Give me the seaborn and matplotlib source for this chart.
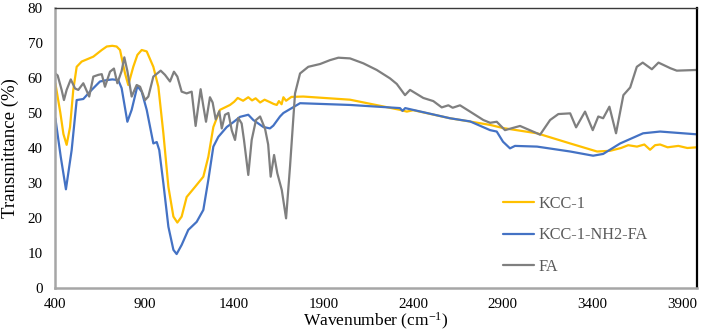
import numpy as np
import pandas as pd
import matplotlib
matplotlib.use("Agg")
import matplotlib.pyplot as plt
import seaborn as sns

# ---- data ----
kcc_wn = [402, 430, 447, 465, 484, 502, 521, 549, 614, 661,
          689, 720, 744, 763, 791, 809, 837, 860, 884, 912,
          949, 977, 1005, 1033, 1061, 1083, 1107, 1135, 1182, 1228,
          1256, 1284, 1321, 1377, 1400, 1420, 1450, 1479, 1500, 1520,
          1545, 1570, 1600, 1620, 1638, 1650, 1665, 1675, 1690, 1720,
          1786, 2047, 2326, 2364, 2400, 2605, 2829, 2901, 3091, 3276,
          3426, 3499, 3560, 3600, 3649, 3690, 3722, 3750, 3778, 3820,
          3880, 3930, 3984]
kcc_t = [58.5, 50, 44, 40.9, 46, 56.6, 63.2, 64.7, 66.1, 68,
         69, 69.2, 69, 68, 61.3, 58, 63.2, 66.6, 68, 67.6,
         63.2, 57.5, 44.2, 28.9, 20.4, 18.7, 20.4, 26, 28.9, 31.8,
         37.5, 46, 50.9, 52.3, 53.2, 54.3, 53.5, 54.5, 53.6, 54.2,
         53.0, 53.8, 53.1, 52.6, 52.3, 53.4, 52.5, 54.5, 53.5, 54.6,
         54.7, 53.8, 50.9, 50.4, 50.8, 48.5, 46.6, 45.7, 44.2, 41.3,
         39, 39.2, 40.0, 40.8, 40.4, 41.0, 39.5, 40.8, 41, 40.2,
         40.6, 40.0, 40.2]

nh2_wn = [402, 432, 461, 493, 521, 558, 595, 651, 689, 720,
          753, 772, 804, 828, 860, 884, 912, 949, 968, 982,
          1005, 1033, 1061, 1079, 1107, 1144, 1191, 1228, 1256, 1284,
          1312, 1359, 1396, 1433, 1479, 1507, 1563, 1600, 1619, 1656,
          1675, 1768, 2047, 2326, 2340, 2355, 2605, 2717, 2829, 2866,
          2901, 2940, 2968, 3091, 3276, 3404, 3460, 3555, 3683, 3778,
          3984]
nh2_t = [48.5, 37.5, 28.2, 39.4, 53.7, 54, 56.1, 59, 59.4, 59.6,
         59.4, 57.1, 47.5, 50.9, 57.7, 56.1, 50.9, 41.3, 41.7, 39.4,
         29.9, 17.5, 10.9, 9.7, 12.3, 16.6, 18.9, 22.3, 30.9, 40.4,
         43.2, 46, 47.4, 48.9, 49.5, 48, 46, 45.6, 46.4, 49,
         50, 52.8, 52.3, 51.4, 50.6, 51.4, 48.5, 47.6, 45.1, 44.7,
         41.8, 39.9, 40.6, 40.4, 39, 37.8, 38.3, 41.3, 44.2, 44.7,
         43.9]

fa_wn = [402, 415, 437, 450, 465, 488, 512, 530, 558, 591,
         614, 642, 661, 679, 707, 729, 748, 772, 787, 804,
         828, 856, 875, 903, 921, 949, 990, 1014, 1042, 1064,
         1083, 1107, 1135, 1163, 1185, 1197, 1213, 1228, 1243, 1265,
         1280, 1297, 1317, 1331, 1349, 1368, 1387, 1405, 1423, 1442,
         1455, 1479, 1498, 1522, 1545, 1573, 1590, 1604, 1623, 1641,
         1666, 1690, 1712, 1740, 1768, 1814, 1880, 1935, 1982, 2047,
         2121, 2196, 2270, 2308, 2354, 2382, 2456, 2512, 2559, 2596,
         2620, 2661, 2717, 2791, 2829, 2866, 2912, 2940, 2996, 3091,
         3108, 3164, 3210, 3276, 3309, 3359, 3402, 3433, 3460, 3495,
         3532, 3573, 3611, 3648, 3681, 3732, 3769, 3835, 3871, 3984]
fa_t = [61.3, 60.7, 56.6, 53.7, 56.6, 59.6, 57, 56.6, 58.5, 54.7,
        60.4, 60.9, 61.1, 57.5, 61.8, 62.7, 58.5, 62, 65.9, 62,
        54.7, 58, 57.5, 53.7, 54.7, 60.4, 62.1, 60.9, 59, 61.8,
        60.4, 56.1, 55.6, 56.1, 46.3, 50.9, 56.8, 52, 47.5, 54.5,
        53, 48.2, 50.5, 45.6, 49.5, 50, 45, 42.3, 48.6, 47,
        42.3, 32.3, 42.3, 48, 49, 45.4, 41, 31.8, 38, 32.8,
        28, 19.9, 34.7, 55.6, 61.3, 63.2, 64, 65.1, 65.8, 65.6,
        64.2, 62.3, 59.9, 58.3, 55.1, 56.6, 54.3, 53.4, 51.6, 52.2,
        51.5, 52.2, 50.4, 48, 47.2, 47.5, 45.1, 45.5, 46.3, 44.2,
        43.8, 48, 49.7, 49.9, 45.9, 50.4, 45.1, 49, 48.5, 51.8,
        44.2, 55.1, 57.3, 63.2, 64.4, 62.5, 64.4, 62.8, 62.1, 62.3]

series_names = ["KCC-1", "KCC-1-NH2-FA", "FA"]
x_ticks = [400, 900, 1400, 1900, 2400, 2900, 3400, 3900]
y_ticks = [0, 10, 20, 30, 40, 50, 60, 70, 80]

frames = []
for name, wn, t in zip(series_names, [kcc_wn, nh2_wn, fa_wn], [kcc_t, nh2_t, fa_t]):
    frames.append(pd.DataFrame({"wn": wn, "T": t, "series": name, "order": range(len(wn))}))
df = pd.concat(frames, ignore_index=True)

# ---- style ----
sns.set_style("white")
plt.rcParams["font.family"] = ["Liberation Serif", "DejaVu Serif"]
plt.rcParams["mathtext.fontset"] = "custom"
plt.rcParams["mathtext.rm"] = "Liberation Serif"
plt.rcParams["mathtext.it"] = "Liberation Serif:italic"
plt.rcParams["mathtext.default"] = "rm"

W, H = 703, 334
fig = plt.figure(figsize=(W / 100, H / 100), dpi=100)
ax = fig.add_axes([55 / W, 1 - 288 / H, (697 - 55) / W, (288 - 8) / H])

palette = {"KCC-1": "#FFC000", "KCC-1-NH2-FA": "#4472C4", "FA": "#7F7F7F"}
sns.lineplot(data=df, x="wn", y="T", hue="series", hue_order=series_names,
             palette=palette, sort=False, estimator=None, units="series",
             linewidth=1.6, ax=ax, legend=True)

ax.set_xlim(400, 3984)
ax.set_ylim(0, 80)
ax.set_xticks(x_ticks)
ax.set_yticks(y_ticks)
ax.set_xticklabels([str(v) for v in x_ticks])
ax.set_yticklabels([str(v) for v in y_ticks])
ax.tick_params(axis="both", length=0, labelsize=10.8, labelcolor="black")
ax.tick_params(axis="y", pad=9)
ax.tick_params(axis="x", pad=7)

ax.set_xlabel("Wavenumber (cm$^{\\mathregular{-1}}$)", fontsize=12.5, labelpad=0, color="black")
ax.set_ylabel("Transmittance (%)", fontsize=13.5, labelpad=6, color="black")

for side in ["left", "bottom"]:
    ax.spines[side].set_color("#A6A6A6")
    ax.spines[side].set_linewidth(1.8)
ax.spines["top"].set_color("#3A3A3A")
ax.spines["top"].set_linewidth(1.0)
ax.spines["right"].set_color("black")
ax.spines["right"].set_linewidth(1.6)
for s in ax.spines.values():
    s.set_visible(True)

handles, labels = ax.get_legend_handles_labels()
leg = ax.legend(handles, labels, loc="upper left",
                bbox_to_anchor=(503 / W, 1 - 196 / H), bbox_transform=fig.transFigure,
                frameon=False, fontsize=11.7, handlelength=1.9, handletextpad=0.3,
                labelspacing=0.95, borderpad=0, borderaxespad=0)
for txt in leg.get_texts():
    txt.set_color("#595959")
for ln in leg.get_lines():
    ln.set_linewidth(1.6)

fig.savefig("out.png", dpi=100)
